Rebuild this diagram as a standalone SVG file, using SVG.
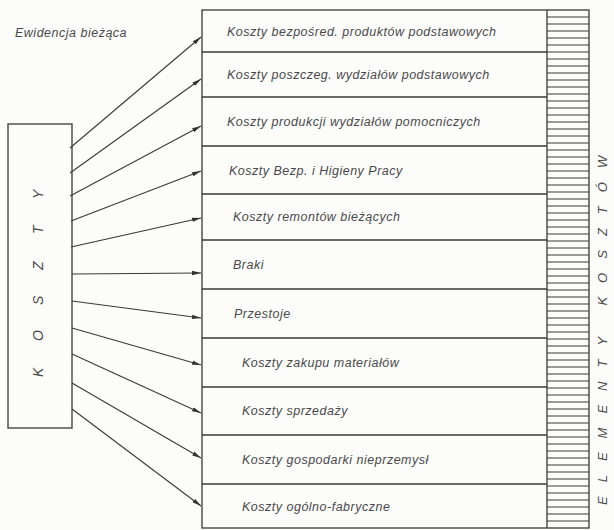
<svg xmlns="http://www.w3.org/2000/svg" width="614" height="530" viewBox="0 0 614 530">
<defs>
<marker id="ah" markerWidth="10" markerHeight="6" refX="9" refY="3" orient="auto" markerUnits="userSpaceOnUse">
<path d="M0,0.8 L9,3 L0,5.2 z" fill="#333"/>
</marker>
<style>
.t{font-family:"Liberation Sans",Arial,sans-serif;font-style:italic;font-size:12.5px;letter-spacing:0.5px;fill:#4a4a4a}
.ln{stroke:#383838;stroke-width:1.3;fill:none}
.h{stroke:#3a3a3a;stroke-width:1.1}
.c{stroke:#3a3a3a;stroke-width:1.1;fill:none;marker-end:url(#ah)}
.big{font-family:"Liberation Sans",Arial,sans-serif;font-style:italic;font-size:14px;fill:#4a4a4a}
</style>
</defs>
<rect width="614" height="530" fill="#fcfcfb"/>

<text class="t" x="15" y="37">Ewidencja bieżąca</text>

<g id="koszty">
<rect class="ln" x="8" y="124" width="64" height="304"/>
<text class="big" transform="rotate(-90)" x="-377 -341 -305 -270 -234 -199" y="43">KOSZTY</text>
</g>

<g id="main">
<rect class="ln" x="202" y="10" width="387" height="518"/>
<line class="ln" x1="547" y1="10" x2="547" y2="528"/>
<g class="h">
<line x1="547" y1="17" x2="589" y2="17"/><line x1="547" y1="24" x2="589" y2="24"/><line x1="547" y1="31" x2="589" y2="31"/><line x1="547" y1="38" x2="589" y2="38"/><line x1="547" y1="45" x2="589" y2="45"/><line x1="547" y1="52" x2="589" y2="52"/><line x1="547" y1="59" x2="589" y2="59"/><line x1="547" y1="66" x2="589" y2="66"/><line x1="547" y1="73" x2="589" y2="73"/><line x1="547" y1="80" x2="589" y2="80"/><line x1="547" y1="87" x2="589" y2="87"/><line x1="547" y1="94" x2="589" y2="94"/><line x1="547" y1="101" x2="589" y2="101"/><line x1="547" y1="108" x2="589" y2="108"/><line x1="547" y1="115" x2="589" y2="115"/><line x1="547" y1="122" x2="589" y2="122"/><line x1="547" y1="129" x2="589" y2="129"/><line x1="547" y1="136" x2="589" y2="136"/><line x1="547" y1="143" x2="589" y2="143"/><line x1="547" y1="150" x2="589" y2="150"/><line x1="547" y1="157" x2="589" y2="157"/><line x1="547" y1="164" x2="589" y2="164"/><line x1="547" y1="171" x2="589" y2="171"/><line x1="547" y1="178" x2="589" y2="178"/><line x1="547" y1="185" x2="589" y2="185"/><line x1="547" y1="192" x2="589" y2="192"/><line x1="547" y1="199" x2="589" y2="199"/><line x1="547" y1="206" x2="589" y2="206"/><line x1="547" y1="213" x2="589" y2="213"/><line x1="547" y1="220" x2="589" y2="220"/><line x1="547" y1="227" x2="589" y2="227"/><line x1="547" y1="234" x2="589" y2="234"/><line x1="547" y1="241" x2="589" y2="241"/><line x1="547" y1="248" x2="589" y2="248"/><line x1="547" y1="255" x2="589" y2="255"/><line x1="547" y1="262" x2="589" y2="262"/><line x1="547" y1="269" x2="589" y2="269"/><line x1="547" y1="276" x2="589" y2="276"/><line x1="547" y1="283" x2="589" y2="283"/><line x1="547" y1="290" x2="589" y2="290"/><line x1="547" y1="297" x2="589" y2="297"/><line x1="547" y1="304" x2="589" y2="304"/><line x1="547" y1="311" x2="589" y2="311"/><line x1="547" y1="318" x2="589" y2="318"/><line x1="547" y1="325" x2="589" y2="325"/><line x1="547" y1="332" x2="589" y2="332"/><line x1="547" y1="339" x2="589" y2="339"/><line x1="547" y1="346" x2="589" y2="346"/><line x1="547" y1="353" x2="589" y2="353"/><line x1="547" y1="360" x2="589" y2="360"/><line x1="547" y1="367" x2="589" y2="367"/><line x1="547" y1="374" x2="589" y2="374"/><line x1="547" y1="381" x2="589" y2="381"/><line x1="547" y1="388" x2="589" y2="388"/><line x1="547" y1="395" x2="589" y2="395"/><line x1="547" y1="402" x2="589" y2="402"/><line x1="547" y1="409" x2="589" y2="409"/><line x1="547" y1="416" x2="589" y2="416"/><line x1="547" y1="423" x2="589" y2="423"/><line x1="547" y1="430" x2="589" y2="430"/><line x1="547" y1="437" x2="589" y2="437"/><line x1="547" y1="444" x2="589" y2="444"/><line x1="547" y1="451" x2="589" y2="451"/><line x1="547" y1="458" x2="589" y2="458"/><line x1="547" y1="465" x2="589" y2="465"/><line x1="547" y1="472" x2="589" y2="472"/><line x1="547" y1="479" x2="589" y2="479"/><line x1="547" y1="486" x2="589" y2="486"/><line x1="547" y1="493" x2="589" y2="493"/><line x1="547" y1="500" x2="589" y2="500"/><line x1="547" y1="507" x2="589" y2="507"/><line x1="547" y1="514" x2="589" y2="514"/><line x1="547" y1="521" x2="589" y2="521"/>
</g>
</g>

<g id="r1"><text class="t" x="227" y="36">Koszty bezpośred. produktów podstawowych</text><line class="ln" x1="202" y1="52" x2="547" y2="52"/></g>
<g id="r2"><text class="t" x="227" y="79">Koszty poszczeg. wydziałów podstawowych</text><line class="ln" x1="202" y1="97" x2="547" y2="97"/></g>
<g id="r3"><text class="t" x="227" y="126">Koszty produkcji wydziałów pomocniczych</text><line class="ln" x1="202" y1="146" x2="547" y2="146"/></g>
<g id="r4"><text class="t" x="229" y="175">Koszty Bezp. i Higieny Pracy</text><line class="ln" x1="202" y1="194" x2="547" y2="194"/></g>
<g id="r5"><text class="t" x="233" y="221">Koszty remontów bieżących</text><line class="ln" x1="202" y1="240" x2="547" y2="240"/></g>
<g id="r6"><text class="t" x="233" y="269">Braki</text><line class="ln" x1="202" y1="289" x2="547" y2="289"/></g>
<g id="r7"><text class="t" x="234" y="318">Przestoje</text><line class="ln" x1="202" y1="338" x2="547" y2="338"/></g>
<g id="r8"><text class="t" x="242" y="367">Koszty zakupu materiałów</text><line class="ln" x1="202" y1="387" x2="547" y2="387"/></g>
<g id="r9"><text class="t" x="242" y="415">Koszty sprzedaży</text><line class="ln" x1="202" y1="435" x2="547" y2="435"/></g>
<g id="r10"><text class="t" x="242" y="464">Koszty gospodarki nieprzemysł</text><line class="ln" x1="202" y1="484" x2="547" y2="484"/></g>
<g id="r11"><text class="t" x="242" y="511">Koszty ogólno-fabryczne</text></g>

<text class="t" transform="rotate(-90)" x="-505" y="607" style="letter-spacing:14px;font-size:13px">ELEMENTY KOSZTÓW</text>

<g id="connectors">
<line class="c" x1="70" y1="148" x2="201" y2="37"/>
<line class="c" x1="70" y1="173" x2="201" y2="79"/>
<line class="c" x1="70" y1="196" x2="201" y2="126"/>
<line class="c" x1="71" y1="221" x2="201" y2="171"/>
<line class="c" x1="71" y1="247" x2="201" y2="218"/>
<line class="c" x1="72" y1="274" x2="201" y2="273"/>
<line class="c" x1="72" y1="301" x2="201" y2="318"/>
<line class="c" x1="72" y1="328" x2="201" y2="365"/>
<line class="c" x1="72" y1="354" x2="201" y2="413"/>
<line class="c" x1="72" y1="383" x2="201" y2="458"/>
<line class="c" x1="72" y1="409" x2="201" y2="506"/>
</g>
</svg>
